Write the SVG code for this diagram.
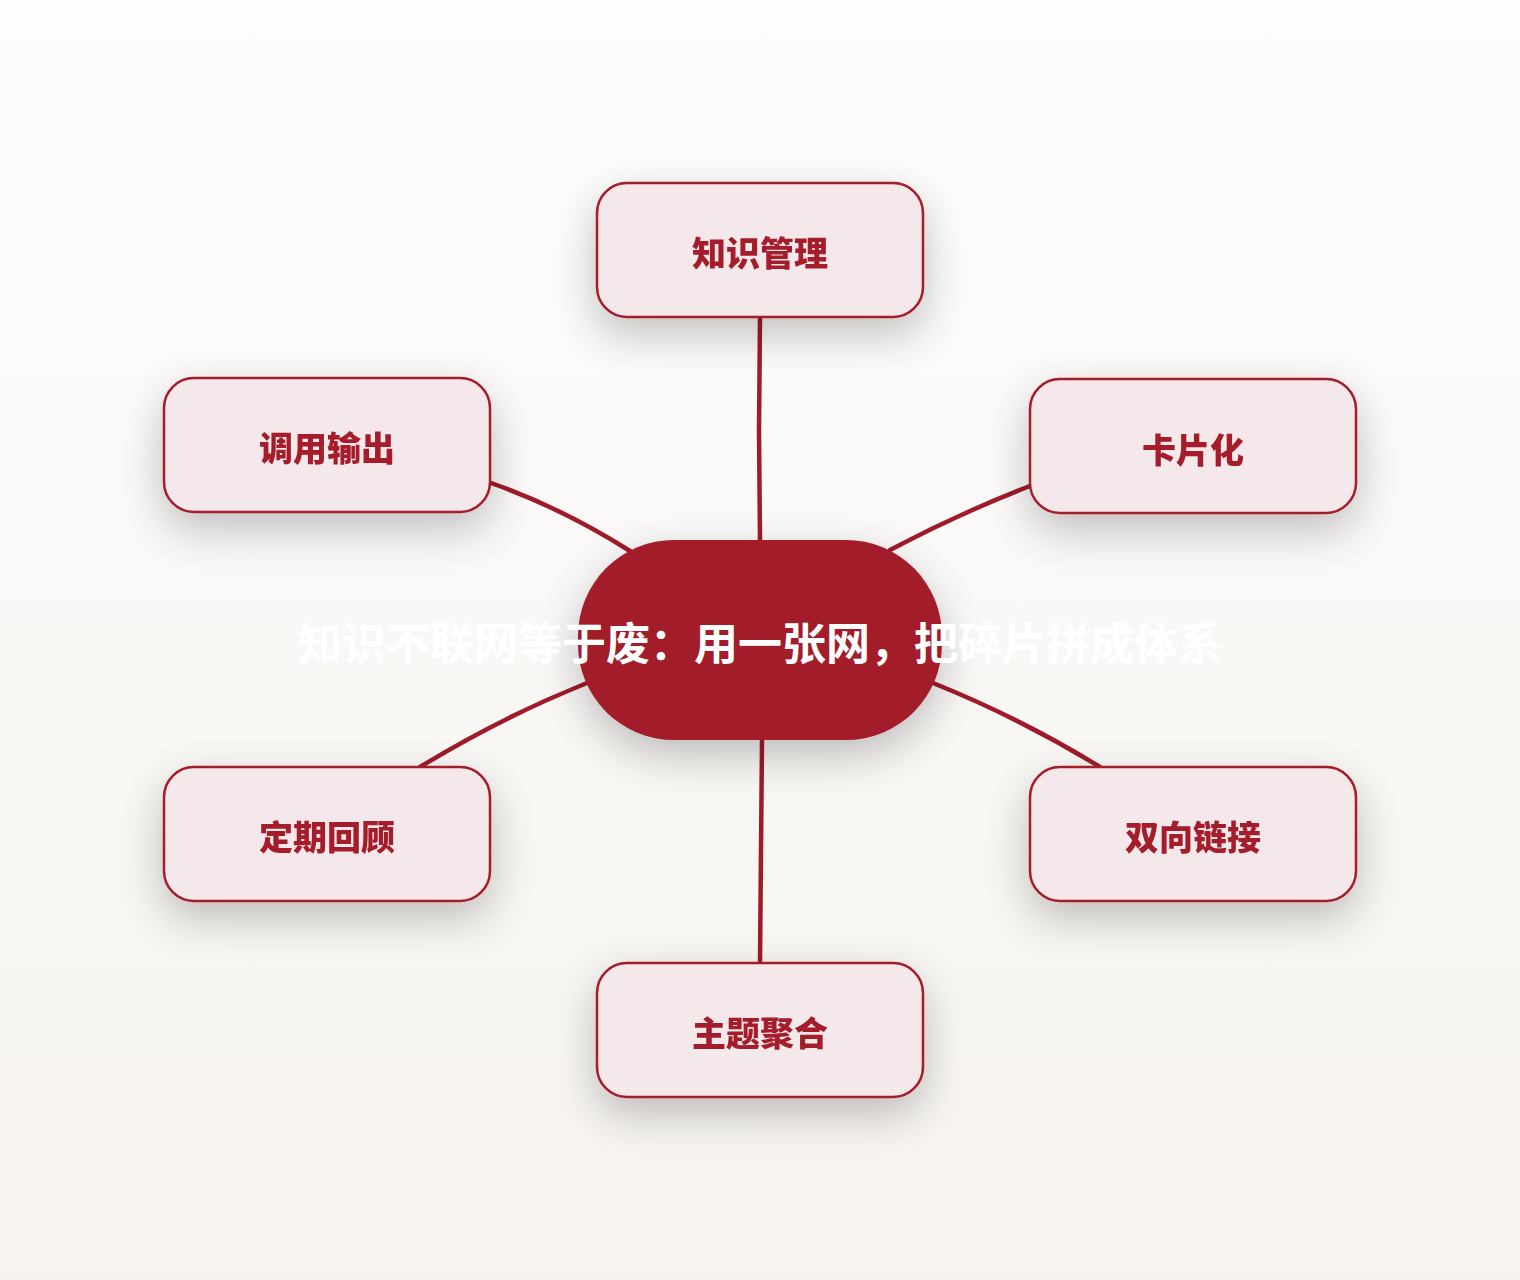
<svg xmlns="http://www.w3.org/2000/svg" width="1520" height="1280" viewBox="0 0 1520 1280">
<defs>
<linearGradient id="bg" x1="0" y1="0" x2="0" y2="1">
<stop offset="0" stop-color="#fdfdfc"/>
<stop offset="1" stop-color="#f6f3ef"/>
</linearGradient>
<filter id="sh" x="-40%" y="-50%" width="180%" height="220%">
<feGaussianBlur in="SourceAlpha" stdDeviation="22"/>
<feOffset dy="16" result="b"/>
<feComponentTransfer><feFuncA type="linear" slope="0.24"/></feComponentTransfer>
<feMerge><feMergeNode/><feMergeNode in="SourceGraphic"/></feMerge>
</filter>
<style>
.box{fill:#f5e8ea;stroke:#a51b2b;stroke-width:2.5}
.lbl{font-family:"Noto Sans CJK SC","Noto Sans",sans-serif;font-weight:900;font-size:34px;fill:#a51b2b;text-anchor:middle;dominant-baseline:central}
.edge{fill:none;stroke:#a01a29;stroke-width:4.5;stroke-linecap:round}
.center{fill:#a31a2a}
.ctext{font-family:"Noto Sans CJK SC","Noto Sans",sans-serif;font-weight:700;font-size:44px;fill:#ffffff;text-anchor:middle;dominant-baseline:central}
</style>
</defs>
<rect width="1520" height="1280" fill="url(#bg)"/>
<g id="connectors">
<path class="edge" d="M760,317 L759,430 L760,540"/>
<path class="edge" d="M491,483 Q562,508 630,551"/>
<path class="edge" d="M1030,486 Q958,514 890,550"/>
<path class="edge" d="M420,767 Q500,718 587,683"/>
<path class="edge" d="M933,683 Q1020,718 1100,767"/>
<path class="edge" d="M762,740 L761,850 L760,963"/>
</g>
<g id="n-top" filter="url(#sh)">
<rect class="box" x="597" y="183" width="326" height="134" rx="30"/>
<text class="lbl" x="760" y="251">知识管理</text>
</g>
<g id="n-tr" filter="url(#sh)">
<rect class="box" x="1030" y="379" width="326" height="134" rx="30"/>
<text class="lbl" x="1193" y="448">卡片化</text>
</g>
<g id="n-br" filter="url(#sh)">
<rect class="box" x="1030" y="767" width="326" height="134" rx="30"/>
<text class="lbl" x="1193" y="835">双向链接</text>
</g>
<g id="n-bottom" filter="url(#sh)">
<rect class="box" x="597" y="963" width="326" height="134" rx="30"/>
<text class="lbl" x="760" y="1031">主题聚合</text>
</g>
<g id="n-bl" filter="url(#sh)">
<rect class="box" x="164" y="767" width="326" height="134" rx="30"/>
<text class="lbl" x="327" y="835">定期回顾</text>
</g>
<g id="n-tl" filter="url(#sh)">
<rect class="box" x="164" y="378" width="326" height="134" rx="30"/>
<text class="lbl" x="327" y="446">调用输出</text>
</g>
<g id="n-center">
<rect class="center" x="578" y="540" width="364" height="200" rx="96" filter="url(#sh)"/>
<text class="ctext" x="760" y="641">知识不联网等于废：用一张网，把碎片拼成体系</text>
</g>
</svg>
